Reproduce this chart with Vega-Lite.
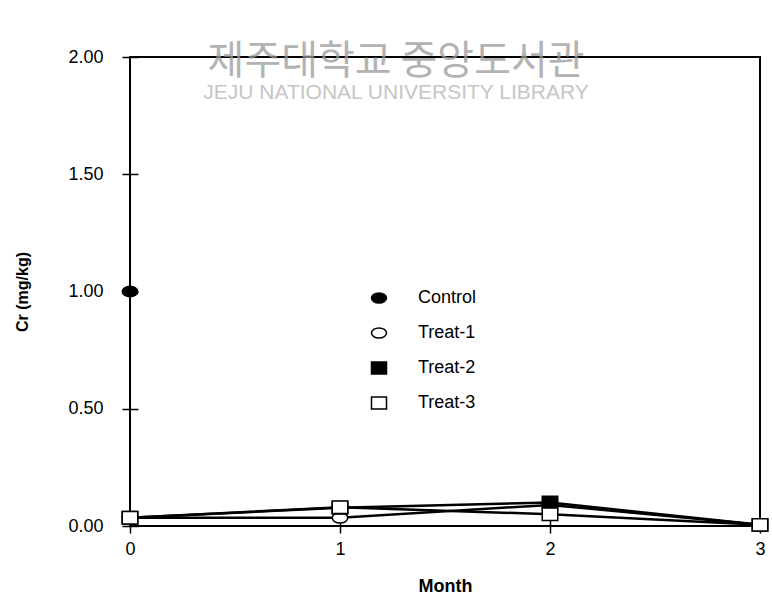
{
  "$schema": "https://vega.github.io/schema/vega-lite/v6.json",
  "width": 630,
  "height": 469,
  "autosize": {"type": "none"},
  "padding": {"left": 130, "top": 57, "right": 12, "bottom": 72},
  "background": "white",
  "config": {
    "view": {"stroke": "black", "strokeWidth": 2},
    "axis": {
      "grid": false,
      "domain": false,
      "tickColor": "black",
      "tickWidth": 1.5,
      "labelFont": "Liberation Sans",
      "labelFontSize": 18,
      "labelColor": "black",
      "titleFont": "Liberation Sans",
      "titleFontWeight": "bold",
      "titleColor": "black"
    },
    "legend": {
      "title": null,
      "orient": "none",
      "legendX": 240,
      "legendY": 232,
      "padding": 0,
      "symbolSize": 225,
      "symbolStrokeWidth": 1.5,
      "symbolStrokeColor": "black",
      "symbolOffset": 0,
      "labelOffset": 30,
      "rowPadding": 17,
      "labelFont": "Liberation Sans",
      "labelFontSize": 18,
      "labelColor": "black"
    }
  },
  "datasets": {
    "cr": [
      {"series": "Control", "month": 0, "cr": 1.0},
      {"series": "Treat-1", "month": 0, "cr": 0.035},
      {"series": "Treat-1", "month": 1, "cr": 0.035},
      {"series": "Treat-1", "month": 2, "cr": 0.09},
      {"series": "Treat-1", "month": 3, "cr": 0.005},
      {"series": "Treat-2", "month": 0, "cr": 0.035},
      {"series": "Treat-2", "month": 1, "cr": 0.078},
      {"series": "Treat-2", "month": 2, "cr": 0.1},
      {"series": "Treat-2", "month": 3, "cr": 0.005},
      {"series": "Treat-3", "month": 0, "cr": 0.035},
      {"series": "Treat-3", "month": 1, "cr": 0.08},
      {"series": "Treat-3", "month": 2, "cr": 0.05},
      {"series": "Treat-3", "month": 3, "cr": 0.005}
    ],
    "stamp": [
      {"kr": "제주대학교 중앙도서관", "en": "JEJU NATIONAL UNIVERSITY  LIBRARY"}
    ]
  },
  "layer": [
    {
      "data": {"name": "cr"},
      "mark": {"type": "line", "stroke": "black", "strokeWidth": 2.5},
      "encoding": {
        "x": {
          "field": "month", "type": "quantitative",
          "scale": {"domain": [0, 3], "nice": false, "zero": false},
          "axis": {"title": "Month", "values": [0, 1, 2, 3], "format": "d", "offset": -7, "tickSize": 14, "labelPadding": 7, "titleFontSize": 18, "titlePadding": 19, "labelFlush": false}
        },
        "y": {
          "field": "cr", "type": "quantitative",
          "scale": {"domain": [0, 2], "nice": false},
          "axis": {"title": "Cr (mg/kg)", "values": [0, 0.5, 1, 1.5, 2], "format": ".2f", "offset": -8, "tickSize": 16, "labelPadding": 19, "titleFontSize": 16, "titlePadding": 37}
        },
        "detail": {"field": "series"}
      }
    },
    {
      "data": {"name": "cr"},
      "mark": {"type": "point", "stroke": "black", "strokeWidth": 1.5, "opacity": 1, "fillOpacity": 1, "size": 240},
      "encoding": {
        "x": {"field": "month", "type": "quantitative", "title": "Month"},
        "y": {"field": "cr", "type": "quantitative", "title": "Cr (mg/kg)"},
        "shape": {
          "field": "series", "type": "nominal",
          "scale": {
            "domain": ["Control", "Treat-1", "Treat-2", "Treat-3"],
            "range": [
              "M-1,0A1,0.68 0 1,1 1,0A1,0.68 0 1,1 -1,0Z",
              "M-1,0A1,0.68 0 1,1 1,0A1,0.68 0 1,1 -1,0Z",
              "M-1,-0.8H1V0.8H-1Z",
              "M-1,-0.8H1V0.8H-1Z"
            ]
          },
          "legend": {
            "encoding": {
              "symbols": {
                "stroke": {"value": "black"},
                "strokeWidth": {"value": 1.5},
                "opacity": {"value": 1}
              }
            }
          }
        },
        "fill": {
          "field": "series", "type": "nominal",
          "scale": {"domain": ["Control", "Treat-1", "Treat-2", "Treat-3"], "range": ["black", "white", "black", "white"]},
          "legend": null
        }
      }
    },
    {
      "data": {"name": "stamp"},
      "mark": {"type": "text", "font": "Noto Sans CJK KR", "fontSize": 40, "fill": "#9a9a9a", "opacity": 0.75, "align": "center", "baseline": "middle"},
      "encoding": {
        "x": {"datum": 1.267, "type": "quantitative", "title": "Month"},
        "y": {"datum": 1.979, "type": "quantitative", "title": "Cr (mg/kg)"},
        "text": {"field": "kr"}
      }
    },
    {
      "data": {"name": "stamp"},
      "mark": {"type": "text", "font": "Liberation Sans", "fontSize": 21, "fill": "#b8b8b8", "opacity": 0.8, "align": "center", "baseline": "middle"},
      "encoding": {
        "x": {"datum": 1.267, "type": "quantitative", "title": "Month"},
        "y": {"datum": 1.846, "type": "quantitative", "title": "Cr (mg/kg)"},
        "text": {"field": "en"}
      }
    }
  ]
}
